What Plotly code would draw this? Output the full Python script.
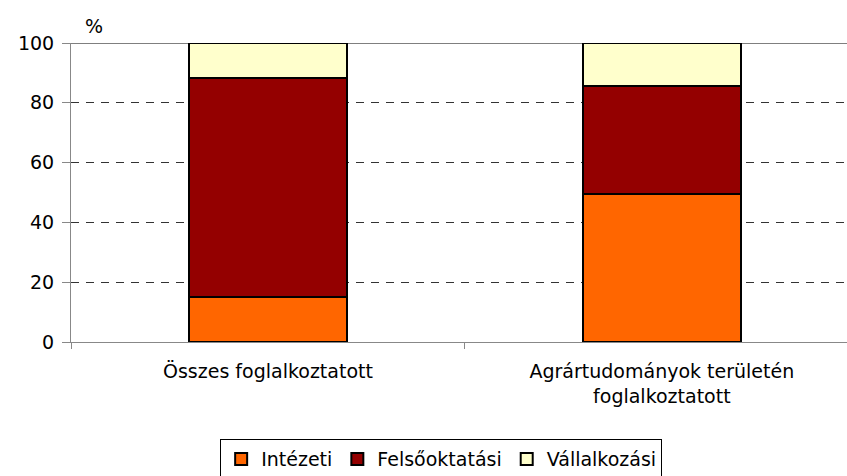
import plotly.graph_objects as go

categories = ["Összes foglalkoztatott", "Agrártudományok területén<br>foglalkoztatott"]
intezeti = [15.0, 49.5]
felsooktatasi = [73.3, 36.1]
vallalkozasi = [11.7, 14.4]
y_ticks = [0, 20, 40, 60, 80, 100]

fig = go.Figure()

# Stacked bars, bottom to top
for name, vals, color in [
    ("Intézeti", intezeti, "#FF6600"),
    ("Felsőoktatási", felsooktatasi, "#940000"),
    ("Vállalkozási", vallalkozasi, "#FFFFCC"),
]:
    fig.add_trace(go.Bar(
        x=categories, y=vals, name=name,
        marker=dict(color=color, line=dict(color="black", width=2)),
        width=0.4,
    ))

# Solid top line at 100
fig.add_shape(type="line", xref="paper", yref="y", x0=0, x1=1, y0=100, y1=100,
              line=dict(color="black", width=1), layer="below")

fig.add_annotation(text="%", xref="paper", yref="paper", x=0.029, y=1.015,
                   xanchor="center", yanchor="bottom", showarrow=False,
                   font=dict(size=19, color="black"))

fig.update_layout(
    barmode="stack",
    width=847, height=476,
    margin=dict(l=71, r=0, t=43, b=134, autoexpand=False),
    plot_bgcolor="white", paper_bgcolor="white",
    font=dict(family="DejaVu Sans, Verdana, Arial", size=19, color="black"),
    legend=dict(
        orientation="h", traceorder="normal",
        x=0.477, y=-0.325, xanchor="center", yanchor="top",
        bordercolor="black", borderwidth=1,
        font=dict(size=19), itemwidth=30,
    ),
    showlegend=True,
)

fig.update_xaxes(
    range=[-0.5, 1.47],
    showline=True, linecolor="#888", linewidth=1,
    ticks="outside", tickson="boundaries", ticklen=6, tickcolor="#888",
    ticklabelstandoff=12,
    showgrid=False,
)
fig.update_yaxes(
    range=[0, 100], tickvals=y_ticks,
    showline=True, linecolor="#888", linewidth=1,
    ticks="outside", ticklen=8, tickcolor="#888",
    ticklabelstandoff=4,
    showgrid=True, gridcolor="#333", gridwidth=1, griddash="8px,7px",
    zeroline=False,
)

# drop the browser's default page margin so the figure sits at (0, 0)
fig.write_html("out.html",
               config={"displayModeBar": False},
               post_script="document.body.style.margin='0';document.body.style.overflow='hidden';")
